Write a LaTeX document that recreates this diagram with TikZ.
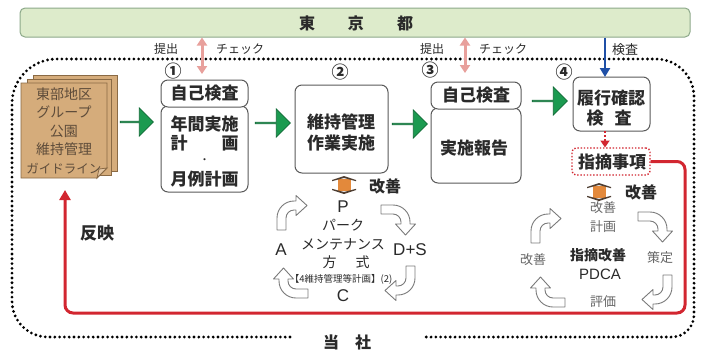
\documentclass[tikz,border=0pt]{standalone}
\usepackage{fontspec}
\setmainfont{Noto Sans CJK JP}
\newfontfamily\latf{Liberation Sans}
\usetikzlibrary{arrows.meta,shapes.arrows}
\definecolor{bannerfill}{HTML}{DDEBCB}
\definecolor{bannerdraw}{HTML}{8DA98A}
\definecolor{docfill}{HTML}{D5AC7B}
\definecolor{docdraw}{HTML}{8A6A45}
\definecolor{doctext}{HTML}{5E4C3A}
\definecolor{boxdraw}{HTML}{5A5A5A}
\definecolor{grfill}{HTML}{1B9A50}
\definecolor{grdraw}{HTML}{0E6A35}
\definecolor{pinkc}{HTML}{E8A09C}
\definecolor{bluec}{HTML}{1F4FA6}
\definecolor{redc}{HTML}{D22630}
\definecolor{orangec}{HTML}{E3893B}
\definecolor{capc}{HTML}{4E3E32}
\definecolor{cyclegray}{HTML}{7A7A7A}
\definecolor{txtgray}{HTML}{666666}
\definecolor{txt}{HTML}{2A2A2A}
\tikzset{
  bentarrow/.pic={
    \draw[cyclegray, line width=0.9pt, fill=white, line join=round]
      (9,0) -- (0,0) -- (0,-12) .. controls (0,-21.4) and (7.6,-29) .. (17,-29)
      -- (19,-29) -- (19,-34.5) -- (30,-24.5) -- (19,-14.5) -- (19,-20) -- (17,-20)
      .. controls (12.6,-20) and (9,-16.4) .. (9,-12) -- cycle;
  },
  updown/.pic={
    \fill[orangec] (-6.5,-6) rectangle (6.5,6);
    \fill[capc] (-12,-5) -- (0,-9) -- (12,-5) -- (12,-3.8) -- (0,-7) -- (-12,-3.8) -- cycle;
    \fill[capc] (-12,5) -- (0,9) -- (12,5) -- (12,3.8) -- (0,7) -- (-12,3.8) -- cycle;
  }
}
\begin{document}
\begin{tikzpicture}[x=1pt,y=-1pt,
  box/.style={draw=boxdraw, line width=1pt, rounded corners=7pt, fill=white, inner sep=0pt},
  boxtxt/.style={font=\fontsize{17}{20}\selectfont\bfseries, text=txt, inner sep=0pt},
  lbl/.style={font=\fontsize{12}{14}\selectfont, text=txt, inner sep=0pt},
  num/.style={font=\fontsize{17}{17}\selectfont\bfseries, text=txt, inner sep=0pt},
  doctxt/.style={font=\fontsize{14}{18.5}\selectfont, text=doctext, align=center, inner sep=0pt},
  boldlbl/.style={font=\fontsize{16}{18}\selectfont\bfseries, text=txt, inner sep=0pt},
  cyc/.style={font=\fontsize{14}{16}\selectfont, text=txt, inner sep=0pt},
  cyclat/.style={font=\latf\fontsize{17}{19}\selectfont, text=txt, inner sep=0pt},
  cycg/.style={font=\fontsize{13}{15}\selectfont, text=txtgray, inner sep=0pt},
  fat/.style={single arrow, draw=grdraw, fill=grfill, line width=0.7pt, minimum width=28pt,
    single arrow head extend=7pt, inner sep=0pt, single arrow tip angle=90},
  pinkarr/.style={draw=pinkc, line width=3pt, {Triangle[width=10pt,length=8pt]}-{Triangle[width=10pt,length=8pt]}},
  dotb/.style={line width=3.1pt, line cap=round, dash pattern=on 0pt off 4.8pt, black}
]
\useasboundingbox (0,0) rectangle (704,349);
\fill[white] (0,0) rectangle (704,349);

% banner
\node[draw=bannerdraw, fill=bannerfill, rounded corners=5pt, minimum width=670pt,
      minimum height=29pt, line width=1pt, inner sep=0pt] (tokyo) at (355,22.5) {};
\node[font=\fontsize{16}{18}\selectfont\bfseries, text=txt, inner sep=0pt] (tokyotxt) at (356,23)
  {東\hspace{33pt}京\hspace{33pt}都};

% outer dotted border
\draw[dotb] (290,337) -- (48,337) .. controls (28,337) and (12,321) .. (12,301)
  -- (12,104) .. controls (12,79) and (32,59) .. (57,59) -- (656,59)
  .. controls (677,59) and (694,76) .. (694,97) -- (694,315)
  .. controls (694,327) and (684,337) .. (672,337) -- (423,337);
\node[boldlbl] (tosha) at (347,342) {当\hspace{16pt}社};

% top labels
\node[lbl] (teishutsu1) at (166,49) {提出};
\node[lbl] (check1) at (240,49) {チェック};
\node[lbl] (teishutsu2) at (432,49) {提出};
\node[lbl] (check2) at (503,49) {チェック};
\node[font=\fontsize{13}{15}\selectfont, text=txt, inner sep=0pt] (kensa0) at (625,50) {検査};

% document stack
\filldraw[fill=docfill, draw=docdraw, line width=0.8pt] (33,75) rectangle (117,171);
\filldraw[fill=docfill, draw=docdraw, line width=0.8pt] (27,79) rectangle (111,175);
\filldraw[fill=docfill, draw=docdraw, line width=0.8pt] (21,83) -- (107,83) -- (107,168) -- (97,178) -- (21,178) -- cycle;
\filldraw[fill=docfill!70!white, draw=docdraw, line width=0.8pt] (107,168) -- (99,169) -- (97,178) -- cycle;
\node[doctxt, minimum width=86pt, minimum height=95pt] (doc) at (64,130.5)
  {東部地区\\グループ\\公園\\維持管理\\{\fontsize{12.5}{18.5}\selectfont ガイドライン}};

% box 1
\node[box, minimum width=87pt, minimum height=86pt] (k1m) at (204.5,149) {};
\node[box, minimum width=87pt, minimum height=27pt] (k1t) at (204.5,93.5) {};
\node[boxtxt] (k1tt) at (k1t) {自己検査};
\node[boxtxt] (k1a) at (204.5,124) {年間実施};
\node[boxtxt] (k1b) at (204.5,143) {計\hspace{34pt}画};
\node[boxtxt, font=\fontsize{10}{10}\selectfont] (k1c) at (204.5,161) {・};
\node[boxtxt] (k1d) at (204.5,179) {月例計画};
\node[num] (n1) at (173,71) {①};

% box 2
\node[box, minimum width=93pt, minimum height=88pt] (k2) at (341.5,129) {};
\node[boxtxt, align=center, font=\fontsize{17}{21}\selectfont\bfseries] (k2t) at (341,132) {維持管理\\作業実施};
\node[num] (n2) at (340,72) {②};

% box 3
\node[box, minimum width=90pt, minimum height=75pt] (k3m) at (476,145.5) {};
\node[box, minimum width=90pt, minimum height=27pt] (k3t) at (476,95.5) {};
\node[boxtxt] (k3tt) at (k3t) {自己検査};
\node[boxtxt] (k3mt) at (474,148) {実施報告};
\node[num] (n3) at (430,70) {③};

% box 4
\node[box, minimum width=77pt, minimum height=54pt] (k4) at (611.5,104) {};
\node[boxtxt] (k4a) at (611,98) {履行確認};
\node[boxtxt] (k4b) at (609,118) {検\hspace{11pt}査};
\node[num] (n4) at (564,72) {④};

% 指摘事項
\node[draw=redc, line width=1.4pt, dash pattern=on 1.4pt off 1.8pt, rounded corners=4pt,
      minimum width=78pt, minimum height=27pt, inner sep=0pt] (j) at (611,161.5) {};
\node[boxtxt] (jt) at (612,162) {指摘事項};

% green arrows
\node[fat, minimum height=33pt] (g1) at (136.5,122) {};
\node[fat, minimum height=35pt] (g2) at (272.5,123) {};
\node[fat, minimum height=35pt] (g3) at (409.5,124) {};
\node[fat, minimum height=35pt] (g4) at (549.5,101) {};

% pink / blue arrows
\coordinate (pk1) at (202,74);
\coordinate (pk2) at (465,73);
\draw[pinkarr] (tokyo.south -| pk1) -- (pk1);
\draw[pinkarr] (tokyo.south -| pk2) -- (pk2);
\coordinate (bl) at (605,77);
\draw[bluec, line width=2.5pt, -{Triangle[width=10pt,length=9pt]}] (tokyo.south -| bl) -- (bl);

% red dotted arrow box4 -> 指摘事項
\coordinate (rd1) at (605,131);
\coordinate (rd2) at (605,147.5);
\draw[redc, line width=2.2pt, dash pattern=on 2pt off 2pt, -{Triangle[width=9pt,length=7pt]}] (rd1) -- (rd2);

% red feedback line
\coordinate (fbR) at (685,313);
\coordinate (fbL) at (65,313);
\coordinate (fbE) at (65,190);
\draw[redc, line width=3pt, rounded corners=8pt, -{Triangle[width=11pt,length=10pt]}] (j.east) -| (fbR) -- (fbL) -- (fbE);
\node[font=\fontsize{17}{19}\selectfont\bfseries, text=txt, inner sep=0pt] (hanei) at (97,233) {反映};

% orange double arrows and 改善
\pic at (344,185) {updown};
\node[boldlbl] (kaizen1) at (385,186) {改善};
\pic at (599,192) {updown};
\node[boldlbl] (kaizen2) at (641,192) {改善};

% cycle 1
\pic at (277,230) {bentarrow};
\pic[rotate=-90] at (381,205) {bentarrow};
\pic[rotate=180] at (415,266) {bentarrow};
\pic[rotate=90] at (308,298) {bentarrow};
\node[cyclat] (cP) at (343,207) {P};
\node[cyc] (c1a) at (343,225) {パーク};
\node[cyc] (c1b) at (343,244) {メンテナンス};
\node[cyc] (c1c) at (346,262) {方\hspace{19pt}式};
\node[font=\fontsize{9.5}{11}\selectfont, text=txt, inner sep=0pt] (c1d) at (341,279) {【4維持管理等計画】(2)};
\node[cyclat] (cC) at (343,296) {C};
\node[cyclat] (cA) at (281,250) {A};
\node[cyclat] (cD) at (410,250) {D+S};

% cycle 2
\pic at (531,243) {bentarrow};
\pic[rotate=-90] at (638,212) {bentarrow};
\pic[rotate=180] at (672,275) {bentarrow};
\pic[rotate=90] at (565,307) {bentarrow};
\node[cycg] (c2a) at (603,208) {改善};
\node[cycg] (c2b) at (603,227) {計画};
\node[font=\fontsize{14}{16}\selectfont\bfseries, text=txt, inner sep=0pt] (c2c) at (598,255) {指摘改善};
\node[font=\latf\fontsize{15}{17}\selectfont, text=txt, inner sep=0pt] (c2d) at (600,274) {PDCA};
\node[cycg] (c2e) at (660,258) {策定};
\node[cycg] (c2f) at (533,260) {改善};
\node[cycg] (c2g) at (603,302) {評価};
\end{tikzpicture}
\end{document}
